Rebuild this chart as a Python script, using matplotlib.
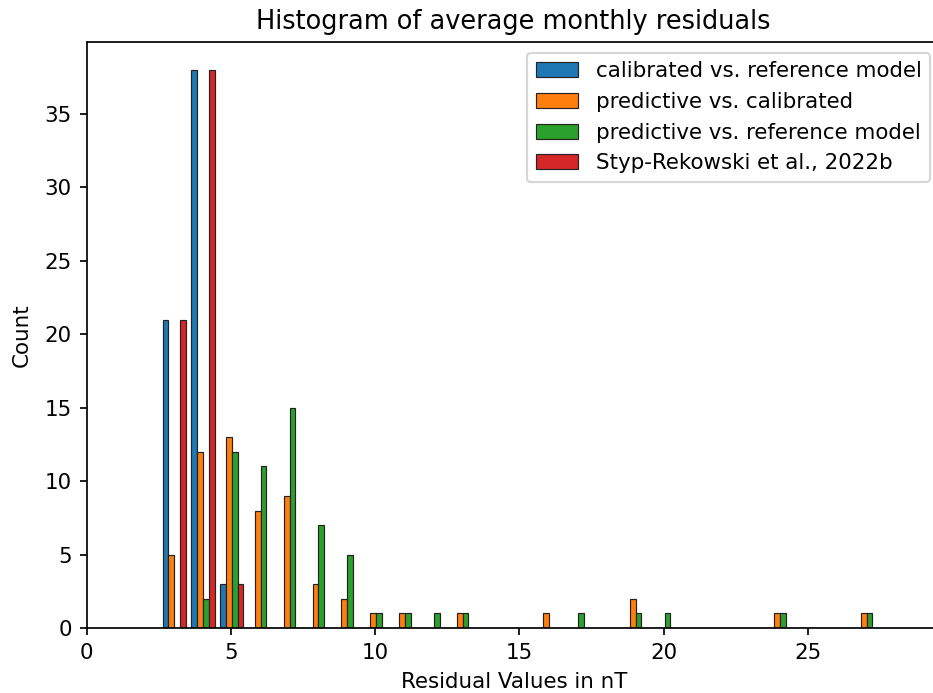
import matplotlib
matplotlib.use("Agg")
import matplotlib.pyplot as plt
import numpy as np

# histogram bins (nT), one unit wide
bin_start = 2.53
n_bins = 25
bin_edges = bin_start + np.arange(n_bins + 1)

labels = [
    "calibrated vs. reference model",
    "predictive vs. calibrated",
    "predictive vs. reference model",
    "Styp-Rekowski et al., 2022b",
]

# counts per bin for each comparison
cal_vs_ref = [21, 38, 3, 0, 0, 0, 0, 0, 0, 0, 0, 0, 0, 0, 0, 0, 0, 0, 0, 0, 0, 0, 0, 0, 0]
pred_vs_cal = [5, 12, 13, 8, 9, 3, 2, 1, 1, 0, 1, 0, 0, 1, 0, 0, 2, 0, 0, 0, 0, 1, 0, 0, 1]
pred_vs_ref = [0, 2, 12, 11, 15, 7, 5, 1, 1, 1, 1, 0, 0, 0, 1, 0, 1, 1, 0, 0, 0, 1, 0, 0, 1]
styp_rekowski = [21, 38, 3, 0, 0, 0, 0, 0, 0, 0, 0, 0, 0, 0, 0, 0, 0, 0, 0, 0, 0, 0, 0, 0, 0]

counts = [cal_vs_ref, pred_vs_cal, pred_vs_ref, styp_rekowski]
centers = 0.5 * (bin_edges[:-1] + bin_edges[1:])

dpi = 154
fig = plt.figure(figsize=(933 / dpi, 693 / dpi), dpi=dpi)
ax = fig.add_axes([86.7 / 933, 65 / 693, 854 / 933, 586 / 693])

ax.hist([centers] * 4, bins=bin_edges, weights=counts, label=labels,
        edgecolor="#222222", linewidth=0.55)

ax.set_xlim(0, 854 / 28.85)
ax.set_title("Histogram of average monthly residuals")
ax.set_xlabel("Residual Values in nT")
ax.set_ylabel("Count", labelpad=6)
ax.legend(loc="upper right")

fig.savefig("out.png", dpi=dpi)
